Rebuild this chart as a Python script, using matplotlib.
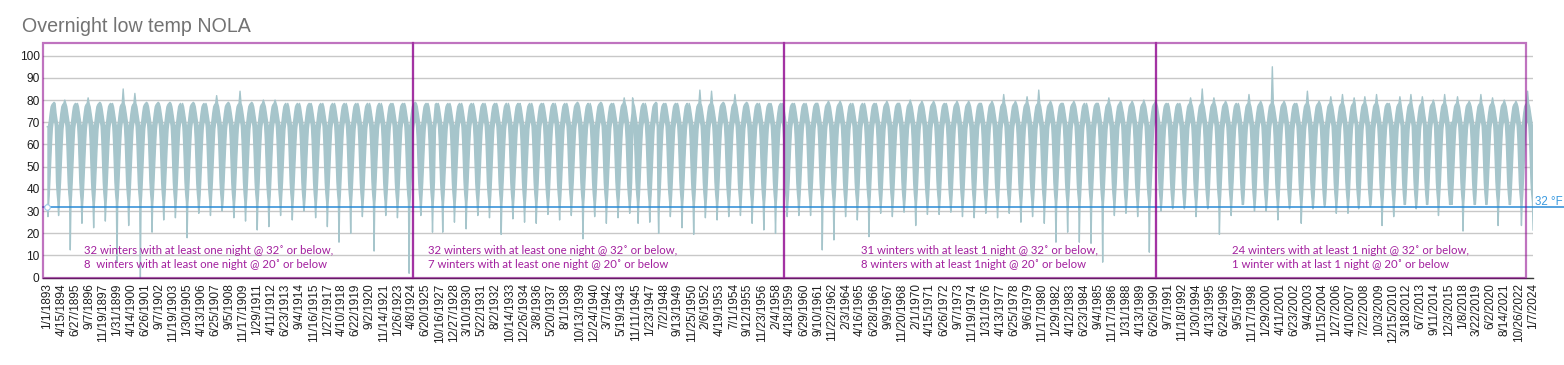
import datetime as dt
import numpy as np
import matplotlib
matplotlib.use("Agg")
import matplotlib.pyplot as plt
from matplotlib.patches import Rectangle
from matplotlib.transforms import blended_transform_factory

nan = float("nan")

# ---------------- data ----------------
tick_labels = [
    "1/1/1893", "4/15/1894", "6/27/1895", "9/7/1896", "11/19/1897", "1/31/1899",
    "4/14/1900", "6/26/1901", "9/7/1902", "11/19/1903", "1/30/1905", "4/13/1906",
    "6/25/1907", "9/5/1908", "11/17/1909", "1/29/1911", "4/11/1912", "6/23/1913",
    "9/4/1914", "11/16/1915", "1/27/1917", "4/10/1918", "6/22/1919", "9/2/1920",
    "11/14/1921", "1/26/1923", "4/8/1924", "6/20/1925", "10/16/1927", "12/27/1928",
    "3/10/1930", "5/22/1931", "8/2/1932", "10/14/1933", "12/26/1934", "3/8/1936",
    "5/20/1937", "8/1/1938", "10/13/1939", "12/24/1940", "3/7/1942", "5/19/1943",
    "11/11/1945", "1/23/1947", "7/2/1948", "9/13/1949", "11/25/1950", "2/6/1952",
    "4/19/1953", "7/1/1954", "9/12/1955", "11/23/1956", "2/4/1958", "4/18/1959",
    "6/29/1960", "9/10/1961", "11/22/1962", "2/3/1964", "4/16/1965", "6/28/1966",
    "9/9/1967", "11/20/1968", "2/1/1970", "4/15/1971", "6/26/1972", "9/7/1973",
    "11/19/1974", "1/31/1976", "4/13/1977", "6/25/1978", "9/6/1979", "11/17/1980",
    "1/29/1982", "4/12/1983", "6/23/1984", "9/4/1985", "11/17/1986", "1/31/1988",
    "4/13/1989", "6/26/1990", "9/7/1991", "11/18/1992", "1/30/1994", "4/13/1995",
    "6/24/1996", "9/5/1997", "11/17/1998", "1/29/2000", "4/11/2001", "6/23/2002",
    "9/4/2003", "11/15/2004", "1/27/2006", "4/10/2007", "7/22/2008", "10/3/2009",
    "12/15/2010", "3/18/2012", "6/7/2013", "9/11/2014", "12/3/2015", "1/8/2018",
    "3/22/2019", "6/2/2020", "8/14/2021", "10/26/2022", "1/7/2024",
]

years = list(range(1893, 2025))

# coldest night of each winter (°F), nan = winter missing from the record
winter_min = [
    27.5, 28, 12.5, 24.5, 22.5, 25.5, 7, 23.5, 0, 20.5,          # 1893-1902
    26, 27, 18, 29, 28, 30, 27, 25.5, 21.5, 23,                  # 1903-1912
    28, 26, 30, 27, 23, 16, 20, 27.5, 12, 28,                    # 1913-1922
    27, 2, 28, 20.5, nan, 20.5, 25, 22, 28, 27,                  # 1923-1932
    19.5, 26.5, 25, 24.5, 28.5, 26, 28, 17.5, 27.5, 24.5,        # 1933-1942
    27, 29, nan, 24.5, 25, 20, 27.5, 22.5, 19.5, 27,             # 1943-1952
    26, 27.5, 28, 24.5, 21.5, 20, 27.5, 28, 28, 12.5,            # 1953-1962
    17, 27.5, 26, 18.5, 29, 27.5, 29.5, 23.5, 28.5, 28.5,        # 1963-1972
    29.5, 27.5, 27, 29, 27, 29, 25, 27.5, 24.5, 16,              # 1973-1982
    20.5, 16, 15.5, 7, 28, 29, 27.5, 11.5, 30, 31,               # 1983-1992
    31, 27.5, 31, 19.5, 28, 33, 30, 30, 26, 31,                  # 1993-2002
    24.5, 31, 32, 29, 29, 31, 32, 23.5, 27.5, 33,                # 2003-2012
    31, 33, 28, 33, nan, 21, 33, 33, 23.5, 33,                   # 2013-2022
    23.5, 21.5,                                                  # 2023-2024
]

# warmest night of each summer (°F), nan = summer missing from the record
summer_max = [
    79, 80, 78, 81, 79, 78, 85, 83, 79, 79,                      # 1893-1902
    79, 76, 79, 77, 82, 79, 84, 79, 80, 80,                      # 1903-1912
    76, 77, 78, 77, 77, 77, 77, 76, 76, 78,                      # 1913-1922
    78, 79, 78, nan, 78, 77, 77, 77, 76, 78,                     # 1923-1932
    75.5, 74, 76, 78, 76, 77, 79, 76, 79, 78,                    # 1933-1942
    81, nan, 81, 76, 79, 78, 78, 75.5, 84.5, 84,                 # 1943-1952
    79, 82.5, 79, 77, 78, 78, 78, 77, 78.5, 79.5,                # 1953-1962
    79.5, 75.5, 76.5, 78, 79.5, 78.5, 80, 79.5, 79.5, 78,        # 1963-1972
    79.5, 79.5, 78.5, 79.5, 82.5, 79.5, 81.5, 84.5, 79.5, 78.5,  # 1973-1982
    79.5, 75.5, 78.5, 81, 79.5, 79.5, 80, 79.5, 78, 77,          # 1983-1992
    81, 85, 81, 79.5, 76.5, 82.5, 79.5, 95, 79.5, 78,            # 1993-2002
    84, 79.5, 81.5, 82.5, 81, 81.5, 82.5, 78, 81.5, 82.5,        # 2003-2012
    81.5, 80, 82.5, nan, 81.5, 79.5, 82.5, 81, 80, 79.5,         # 2013-2022
    84, nan,                                                     # 2023-2024
]

# typical band of nightly lows through a year (day of year, °F);
# None marks the day that takes the year's own extreme
lower_doy = [0, 19, 40, 59, 79, 105, 130, 156, 182, 227, 253, 274, 298, 319, 339, 364]
lower_typ = [33, None, 33, 37, 43, 52, 60, 67, 70, 71, 68, 62, 52, 43, 38, 34]
upper_doy = [0, 31, 59, 90, 120, 151, 182, 212, 243, 274, 304, 334, 364]
upper_typ = [68, 68, 70, 74, 77, 78, 78.5, None, 78.5, 77, 74, 71, 68]

# missing stretches of the record (start dates) inside long label intervals
gap_overrides = {"6/20/1925": "1926-04-01", "5/19/1943": "1944-04-01",
                 "12/3/2015": "2016-03-01"}
data_end = "2024-01-22"
end_low, end_high = 45, 55

freeze_level = 32
ann_line1 = ["32 winters with at least one night @ 32˚ or below,",
             "32 winters with at least one night @ 32˚ or below,",
             "31 winters with at least 1 night @ 32˚ or below,",
             "24 winters with at least 1 night @ 32˚ or below,"]
ann_line2 = ["8  winters with at least one night @ 20˚ or below",
             "7 winters with at least one night @ 20˚ or below",
             "8 winters with at least 1night @ 20˚ or below",
             "1 winter with at last 1 night @ 20˚ or below"]

# ---------------- category axis (one category per recorded day) ----------------
STEP = 438  # a label every 438 recorded days


def to_ord(s):
    m, d, y = map(int, s.split("/"))
    return dt.date(y, m, d).toordinal()


tick_ord = [to_ord(s) for s in tick_labels]
gap_start = {}
for k in range(len(tick_ord) - 1):
    s, e = tick_ord[k], tick_ord[k + 1]
    ex = (e - s) - STEP
    if ex > 0:
        if tick_labels[k] in gap_overrides:
            g = dt.date.fromisoformat(gap_overrides[tick_labels[k]]).toordinal()
        else:
            g = None
            y0 = dt.date.fromordinal(s).year
            for yy in (y0, y0 + 1, y0 + 2):
                c = dt.date(yy, 10, 1).toordinal()
                if c > s and c + ex <= e:
                    g = c
                    break
            if g is None:
                g = s
        gap_start[k] = g


def cat(d):
    k = int(np.searchsorted(tick_ord, d, side="right")) - 1
    k = max(k, 0)
    if k >= len(tick_ord) - 1:
        return STEP * (len(tick_ord) - 1) + (d - tick_ord[-1])
    s, e = tick_ord[k], tick_ord[k + 1]
    ex = (e - s) - STEP
    if ex <= 0:
        return STEP * k + (d - s) * STEP / (e - s)
    g = gap_start[k]
    if d < g:
        return STEP * k + (d - s)
    if d < g + ex:
        return None
    return STEP * k + (d - s - ex)


end_ord = dt.date.fromisoformat(data_end).toordinal()


def envelope(doys, typ, extremes):
    xs, ys = [], []
    for i, Y in enumerate(years):
        base = dt.date(Y, 1, 1).toordinal()
        for doy, v in zip(doys, typ):
            if v is None:
                v = extremes[i]
            d = base + doy
            if d > end_ord or np.isnan(v):
                continue
            c = cat(d)
            if c is None:
                continue
            xs.append(c)
            ys.append(v)
    return xs, ys


xl, yl = envelope(lower_doy, lower_typ, winter_min)
xu, yu = envelope(upper_doy, upper_typ, summer_max)
xl.append(cat(end_ord)); yl.append(end_low)
xu.append(cat(end_ord)); yu.append(end_high)

# ---------------- drawing ----------------
LINE = "#a6c5cb"
PURPLE_TXT = "#a21f9e"

fig = plt.figure(figsize=(15.64, 3.65), dpi=100)
ax = fig.add_axes([43 / 1564, 1 - 277.7 / 365, (1533 - 43) / 1564, (277.7 - 43) / 365])

last_cat = STEP * (len(tick_labels) - 1)
ax.set_xlim(-4.3 / 14.01 * STEP, last_cat + 0.3 / 14.01 * STEP)
ax.set_ylim(0, 105.7)

ax.fill(xu + xl[::-1], yu + yl[::-1], color=LINE, lw=0, zorder=2)
ax.plot(xl, yl, color=LINE, lw=1.0, zorder=2)
ax.plot(xu, yu, color=LINE, lw=1.0, zorder=2)

# grid and axes
ax.set_yticks(range(0, 101, 10))
ax.yaxis.grid(True, color="#c8c8c8", lw=1.0, zorder=0)
ax.set_axisbelow(True)
for side in ("left", "right", "top"):
    ax.spines[side].set_visible(False)
ax.spines["bottom"].set_color("#3a3a3a")
ax.spines["bottom"].set_linewidth(1.0)
ax.tick_params(axis="y", length=0, pad=2.5, labelsize=8.6, labelcolor="#1e1e1e")
for lab in ax.get_yticklabels():
    lab.set_family("Liberation Sans")

ax.set_xticks([STEP * k for k in range(len(tick_labels))])
ax.set_xticklabels(tick_labels, rotation=90, fontsize=8.5, family="Liberation Sans",
                   color="#1e1e1e", va="top", ha="center")
ax.tick_params(axis="x", length=0, pad=4)

# 32 °F reference line
bt = blended_transform_factory(ax.transAxes, ax.transData)
ax.plot([0, (1564 - 43) / 1490], [freeze_level, freeze_level], transform=bt,
        color="#2a8ad6", lw=1.1, clip_on=False, zorder=4)
ax.plot([0], [freeze_level], "o", ms=4, mfc="white", mec="#9ccbea", mew=0.8, zorder=4)
ax.text((1535 - 43) / 1490, freeze_level + 2.2, "32 °F", transform=bt,
        color="#3a9ae0", fontsize=8.3, family="Liberation Sans",
        va="center", ha="left", clip_on=False)

# era boxes
bounds = [0, (413 - 43) / 1490, (784 - 43) / 1490, (1156 - 43) / 1490, (1526 - 43) / 1490]
for a, b in zip(bounds[:-1], bounds[1:]):
    ax.add_patch(Rectangle((a, 0), b - a, 1, transform=ax.transAxes, fill=False,
                           ec=(0.55, 0.0, 0.55), alpha=0.55, lw=1.6, clip_on=False,
                           zorder=5))

ann_x = [(84 - 43) / 1490, (428 - 43) / 1490, (861 - 43) / 1490, (1232 - 43) / 1490]
for x0, l1, l2 in zip(ann_x, ann_line1, ann_line2):
    ax.text(x0, 12.4, l1, transform=bt, color=PURPLE_TXT, fontsize=8.2,
            family=["Lato", "DejaVu Sans"], va="center", ha="left", zorder=6)
    ax.text(x0, 6.0, l2, transform=bt, color=PURPLE_TXT, fontsize=8.2,
            family=["Lato", "DejaVu Sans"], va="center", ha="left", zorder=6)

fig.text(22 / 1564, 1 - 32.3 / 365, "Overnight low temp NOLA", fontsize=14.1,
         family="Liberation Sans", color="#737373", va="baseline", ha="left")

fig.savefig("out.png", dpi=100, facecolor="white")
